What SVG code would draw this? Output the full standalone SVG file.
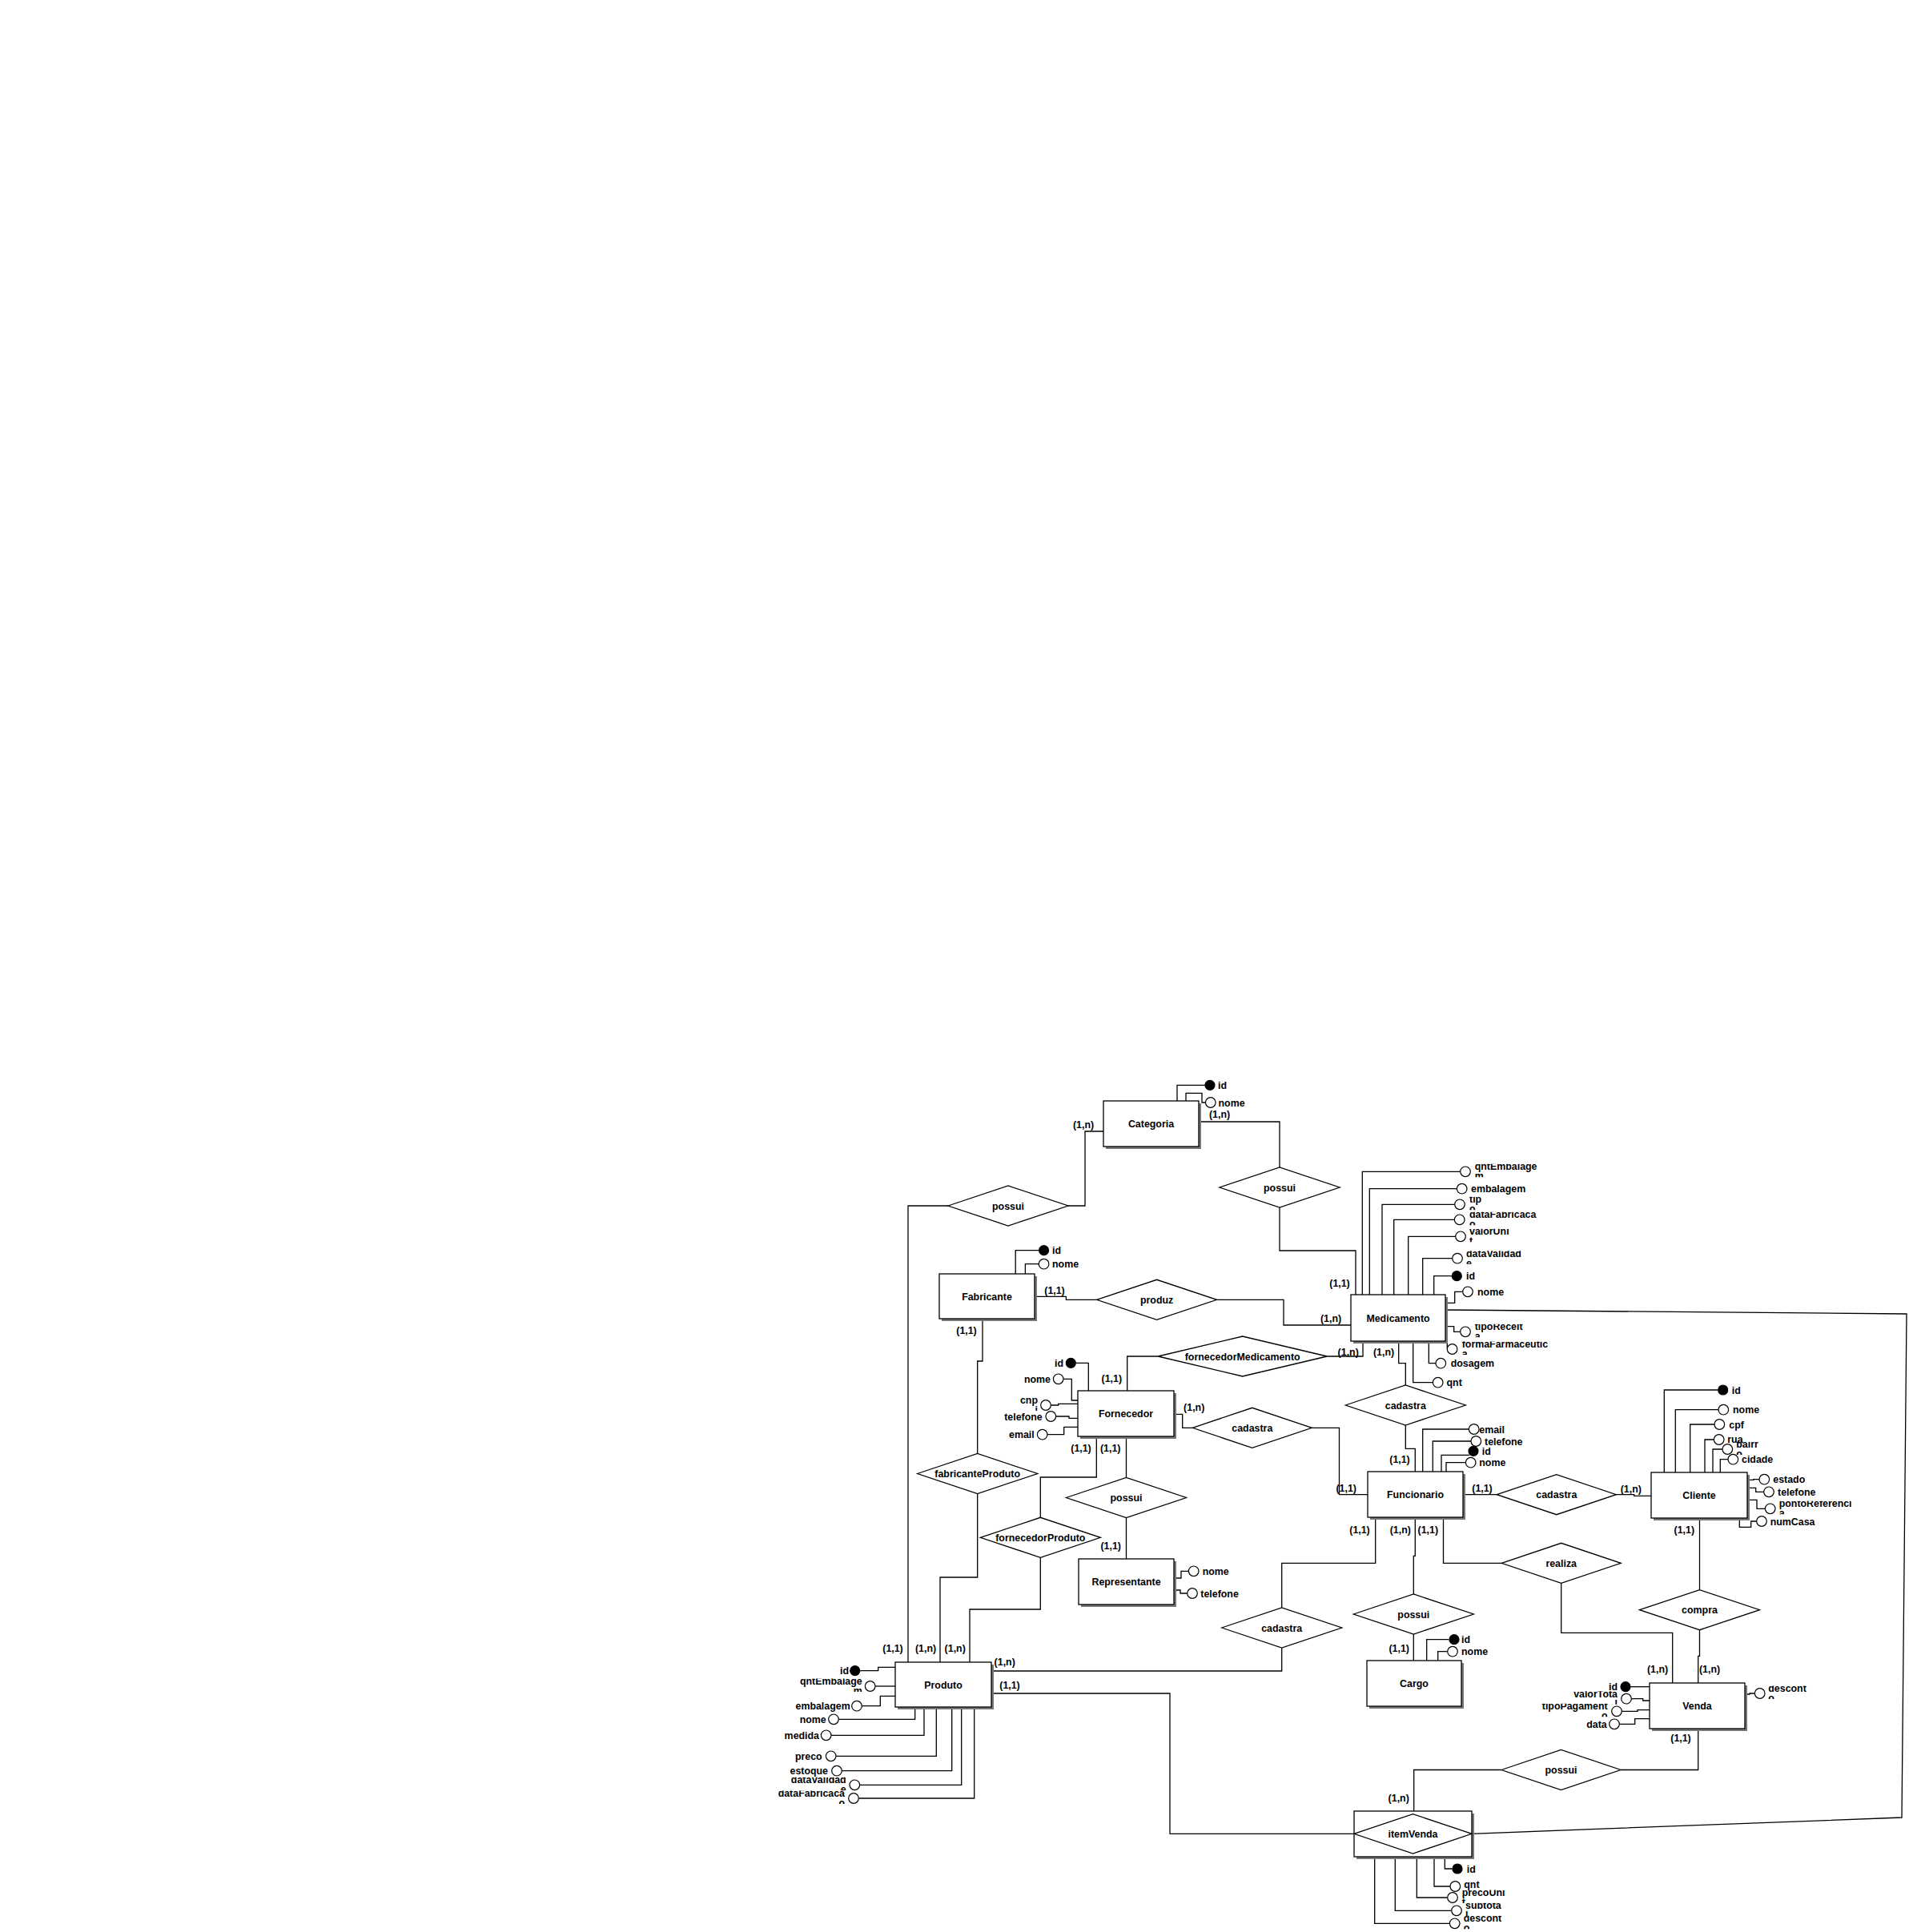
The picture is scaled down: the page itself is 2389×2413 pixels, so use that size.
<svg xmlns="http://www.w3.org/2000/svg" width="2389" height="2413" viewBox="0 0 2389 2413">
<style>
.ln{fill:none;stroke:#000;stroke-width:1.3}
.ent{fill:#fff;stroke:#000;stroke-width:1.3}
.sh{fill:#777}
.rel{fill:#fff;stroke:#000;stroke-width:1.3}
.at{fill:#fff;stroke:#000;stroke-width:1.2}
.pk{fill:#000;stroke:#000;stroke-width:1.2}
text{font-family:"Liberation Sans",Arial,Helvetica,sans-serif;font-weight:bold;font-size:12.4px;fill:#000}
.c{text-anchor:middle}
.e{text-anchor:end}
</style>
<defs>
<clipPath id="w1"><rect x="1841" y="1453.8" width="110" height="16.5"/></clipPath>
<clipPath id="w2"><rect x="1834" y="1494.8" width="110" height="16.5"/></clipPath>
<clipPath id="w3"><rect x="1834" y="1513.8" width="110" height="16.5"/></clipPath>
<clipPath id="w4"><rect x="1834" y="1534.8" width="110" height="16.5"/></clipPath>
<clipPath id="w5"><rect x="1830" y="1562.2" width="110" height="16.5"/></clipPath>
<clipPath id="w6"><rect x="1841" y="1653.8" width="110" height="16.5"/></clipPath>
<clipPath id="w7"><rect x="1825" y="1675.5" width="130" height="16.5"/></clipPath>
<clipPath id="w8"><rect x="1200" y="1745.5" width="97" height="16.5"/></clipPath>
<clipPath id="w9"><rect x="2167" y="1800.5" width="110" height="16.5"/></clipPath>
<clipPath id="w10"><rect x="2221" y="1874.8" width="120" height="16.5"/></clipPath>
<clipPath id="w11"><rect x="960" y="2096.5" width="118" height="16.5"/></clipPath>
<clipPath id="w12"><rect x="940" y="2219.8" width="118" height="16.5"/></clipPath>
<clipPath id="w13"><rect x="940" y="2236.5" width="116" height="16.5"/></clipPath>
<clipPath id="w14"><rect x="1900" y="2112.2" width="121" height="16.5"/></clipPath>
<clipPath id="w15"><rect x="1890" y="2127.8" width="119" height="16.5"/></clipPath>
<clipPath id="w16"><rect x="2207" y="2105.5" width="110" height="16.5"/></clipPath>
<clipPath id="w17"><rect x="1825" y="2360.5" width="110" height="16.5"/></clipPath>
<clipPath id="w18"><rect x="1829" y="2376.8" width="110" height="16.5"/></clipPath>
<clipPath id="w19"><rect x="1827" y="2392.8" width="110" height="16.5"/></clipPath>
</defs>
<rect x="0" y="0" width="2389" height="2413" fill="#fff"/>

<g id="connectors">
<!-- relationships -->
<path class="ln" d="M1378,1413 H1355 V1506 H1334"/>
<path class="ln" d="M1184,1506 H1134 V2076"/>
<path class="ln" d="M1497,1401 H1598 V1458"/>
<path class="ln" d="M1598,1508 V1562 H1693 V1617"/>
<path class="ln" d="M1292,1619.3 H1331.4 V1623.3 H1369.6"/>
<path class="ln" d="M1519.6,1623.3 H1603 V1655 H1687"/>
<path class="ln" d="M1227,1647 V1700 H1220.7 V1815.5"/>
<path class="ln" d="M1220.7,1865.5 V1970 H1174 V2076"/>
<path class="ln" d="M1407.7,1737 V1694 H1446.2"/>
<path class="ln" d="M1657.2,1694 H1702 V1675"/>
<path class="ln" d="M1466,1766.3 H1476.7 V1783.3 H1489.3"/>
<path class="ln" d="M1638.3,1783.3 H1672.5 V1866.7 H1708"/>
<path class="ln" d="M1369.3,1794 V1845 H1299.3 V1895.3"/>
<path class="ln" d="M1299.3,1945.3 V2010 H1211 V2076"/>
<path class="ln" d="M1406.5,1794 V1845.5"/>
<path class="ln" d="M1406.5,1895.5 V1947"/>
<path class="ln" d="M1746.7,1675 V1702.7 H1755.3 V1730"/>
<path class="ln" d="M1755.3,1780 V1809.3 H1767.3 V1838"/>
<path class="ln" d="M1827,1866.7 H1869.3"/>
<path class="ln" d="M2018.3,1866.7 H2040.7 V1868.3 H2062"/>
<path class="ln" d="M1717.7,1895 V1952.3 H1600.7 V2008"/>
<path class="ln" d="M1600.7,2058 V2087 H1238"/>
<path class="ln" d="M1767.3,1895 V1943.3 H1765.3 V1991"/>
<path class="ln" d="M1765.3,2041 V2074"/>
<path class="ln" d="M1802.5,1895 V1952.3 H1875.2"/>
<path class="ln" d="M1949.7,1977.3 V2039.3 H2088.7 V2102"/>
<path class="ln" d="M2122.5,1896 V1985.7"/>
<path class="ln" d="M2122.5,2035.7 V2068.3 H2120.7 V2102"/>
<path class="ln" d="M2120.7,2159 V2210.5 H2024"/>
<path class="ln" d="M1875,2210.5 H1765.7 V2262"/>
<path class="ln" d="M1238,2115 H1461 V2290.3 H1691"/>
<path class="ln" d="M1805,1636 L2381,1641 L2375,2270 L1838,2290.3"/>
<!-- attribute links -->
<path class="ln" d="M1470,1375 V1355.3 H1505"/>
<path class="ln" d="M1481,1375 V1365.3 H1501 V1377 H1505.5"/>
<path class="ln" d="M1701.3,1617 V1463.3 H1823.7"/>
<path class="ln" d="M1710.3,1617 V1484.7 H1819.4"/>
<path class="ln" d="M1726,1617 V1504.3 H1816.7"/>
<path class="ln" d="M1740.7,1617 V1523.3 H1816.4"/>
<path class="ln" d="M1758.7,1617 V1544.3 H1817.7"/>
<path class="ln" d="M1776.7,1617 V1571.7 H1813.7"/>
<path class="ln" d="M1790.7,1617 V1593.7 H1813"/>
<path class="ln" d="M1805,1627.3 H1816.7 V1613.3 H1826.7"/>
<path class="ln" d="M1805,1656.7 H1815.7 V1663.3 H1823.7"/>
<path class="ln" d="M1807.3,1675 V1685"/>
<path class="ln" d="M1784.3,1675 V1702.7 H1793"/>
<path class="ln" d="M1764.7,1675 V1726.7 H1789.4"/>
<path class="ln" d="M1268.2,1591 V1561.7 H1297.3"/>
<path class="ln" d="M1280.4,1591 V1578.7 H1297.3"/>
<path class="ln" d="M1343.6,1702.3 H1359.3 V1737"/>
<path class="ln" d="M1328,1722.3 H1338.3 V1749 H1346"/>
<path class="ln" d="M1312.3,1755 H1321.7 V1753.3 H1346"/>
<path class="ln" d="M1318.6,1769 H1335 V1771.3 H1346"/>
<path class="ln" d="M1308,1791.7 H1328.7 V1782.3 H1346"/>
<path class="ln" d="M1776.7,1838 V1785 H1834.4"/>
<path class="ln" d="M1789.3,1838 V1800 H1837"/>
<path class="ln" d="M1800,1838 V1817.3 H1835"/>
<path class="ln" d="M1806,1838 V1826.7 H1830.4"/>
<path class="ln" d="M2078.3,1839 V1736 H2145.4"/>
<path class="ln" d="M2092.3,1839 V1760.7 H2146"/>
<path class="ln" d="M2110.7,1839 V1779 H2141"/>
<path class="ln" d="M2129,1839 V1798 H2140.4"/>
<path class="ln" d="M2139,1839 V1810 H2151"/>
<path class="ln" d="M2148.3,1839 V1822.7 H2158"/>
<path class="ln" d="M2182,1848.3 H2190 V1847.7 H2197"/>
<path class="ln" d="M2182,1858.3 H2192.7 V1863.3 H2202.7"/>
<path class="ln" d="M2182,1873.3 H2194 V1884.3 H2204.4"/>
<path class="ln" d="M2172.3,1896 V1907.3 H2186.7 V1900 H2193.7"/>
<path class="ln" d="M1466,1971 H1475 V1962.3 H1484.4"/>
<path class="ln" d="M1466,1986 H1474 V1990 H1482.7"/>
<path class="ln" d="M1781.7,2074 V2047.7 H1809.7"/>
<path class="ln" d="M1795.7,2074 V2062.7 H1807.7"/>
<path class="ln" d="M1074,2086.7 H1096.7 V2082.3 H1118"/>
<path class="ln" d="M1093,2106 H1118"/>
<path class="ln" d="M1076.3,2130.7 H1099.3 V2118.3 H1118"/>
<path class="ln" d="M1047.3,2147.3 H1142.7 V2132"/>
<path class="ln" d="M1038,2167.3 H1154 V2132"/>
<path class="ln" d="M1044,2193.3 H1169.3 V2132"/>
<path class="ln" d="M1051.3,2211.7 H1188.7 V2132"/>
<path class="ln" d="M1073.6,2229.3 H1200.7 V2132"/>
<path class="ln" d="M1072.3,2246 H1216.7 V2132"/>
<path class="ln" d="M2036.3,2106.7 H2060"/>
<path class="ln" d="M2037.3,2121.7 H2051.7 V2124 H2060"/>
<path class="ln" d="M2025.3,2137.3 H2045 V2135.7 H2060"/>
<path class="ln" d="M2022.3,2153.3 H2041.7 V2146.7 H2060"/>
<path class="ln" d="M2179,2116 H2185 V2115 H2191.4"/>
<path class="ln" d="M1804.3,2319 V2334 H1813.7"/>
<path class="ln" d="M1791,2319 V2356 H1811"/>
<path class="ln" d="M1769.3,2319 V2370 H1807.7"/>
<path class="ln" d="M1742.3,2319 V2386.3 H1812.7"/>
<path class="ln" d="M1716.7,2319 V2402.3 H1810.4"/>
<!-- cardinalities -->
<text class="c" x="1353" y="1409.2">(1,n)</text>
<text class="c" x="1523" y="1396.2">(1,n)</text>
<text class="c" x="1673" y="1607.2">(1,1)</text>
<text class="c" x="1662" y="1651.2">(1,n)</text>
<text class="c" x="1683.7" y="1692.5">(1,n)</text>
<text class="c" x="1728" y="1692.5">(1,n)</text>
<text class="c" x="1317" y="1615.5">(1,1)</text>
<text class="c" x="1207" y="1666">(1,1)</text>
<text class="c" x="1388.3" y="1725.8">(1,1)</text>
<text class="c" x="1491.2" y="1761.5">(1,n)</text>
<text class="c" x="1350" y="1812.8">(1,1)</text>
<text class="c" x="1386.7" y="1812.8">(1,1)</text>
<text class="c" x="1748" y="1827">(1,1)</text>
<text class="c" x="1681.2" y="1862.5">(1,1)</text>
<text class="c" x="1851" y="1862.5">(1,1)</text>
<text class="c" x="2036.8" y="1863.5">(1,n)</text>
<text class="c" x="1698" y="1914.5">(1,1)</text>
<text class="c" x="1748.8" y="1914.5">(1,n)</text>
<text class="c" x="1783.3" y="1914.5">(1,1)</text>
<text class="c" x="2103.3" y="1914.5">(1,1)</text>
<text class="c" x="1115" y="2063.2">(1,1)</text>
<text class="c" x="1156" y="2063.2">(1,n)</text>
<text class="c" x="1192.7" y="2063.2">(1,n)</text>
<text class="c" x="1254.7" y="2079.5">(1,n)</text>
<text class="c" x="1261" y="2108.5">(1,1)</text>
<text class="c" x="1387.2" y="1934.5">(1,1)</text>
<text class="c" x="1747.2" y="2062.5">(1,1)</text>
<text class="c" x="2070" y="2088.8">(1,n)</text>
<text class="c" x="2135" y="2088.8">(1,n)</text>
<text class="c" x="2099" y="2174.5">(1,1)</text>
<text class="c" x="1746.7" y="2249.5">(1,n)</text>
</g>

<g id="rel-possui-categoria-produto"><polygon class="rel" points="1184,1506 1259,1481 1334,1506 1259,1531"/><text class="c" x="1259" y="1510.5">possui</text></g>
<g id="rel-possui-categoria-medicamento"><polygon class="rel" points="1523,1483 1598,1458 1673,1483 1598,1508"/><text class="c" x="1598" y="1487.5">possui</text></g>
<g id="rel-produz"><polygon class="rel" points="1369.6,1623.3 1444.6,1598.3 1519.6,1623.3 1444.6,1648.3"/><text class="c" x="1444.6" y="1627.8">produz</text></g>
<g id="rel-fornecedorMedicamento"><polygon class="rel" points="1446.2,1694 1551.7,1669 1657.2,1694 1551.7,1719"/><text class="c" x="1551.7" y="1698.5">fornecedorMedicamento</text></g>
<g id="rel-cadastra-fornecedor"><polygon class="rel" points="1489.3,1783.3 1563.8,1758.3 1638.3,1783.3 1563.8,1808.3"/><text class="c" x="1563.8" y="1787.8">cadastra</text></g>
<g id="rel-cadastra-medicamento"><polygon class="rel" points="1680.3,1755 1755.3,1730 1830.3,1755 1755.3,1780"/><text class="c" x="1755.3" y="1759.5">cadastra</text></g>
<g id="rel-fabricanteProduto"><polygon class="rel" points="1145.7,1840.5 1220.7,1815.5 1295.7,1840.5 1220.7,1865.5"/><text class="c" x="1220.7" y="1845">fabricanteProduto</text></g>
<g id="rel-possui-representante"><polygon class="rel" points="1331.5,1870.5 1406.5,1845.5 1481.5,1870.5 1406.5,1895.5"/><text class="c" x="1406.5" y="1875">possui</text></g>
<g id="rel-fornecedorProduto"><polygon class="rel" points="1224.3,1920.3 1299.3,1895.3 1374.3,1920.3 1299.3,1945.3"/><text class="c" x="1299.3" y="1924.8">fornecedorProduto</text></g>
<g id="rel-cadastra-cliente"><polygon class="rel" points="1869.3,1866.7 1943.8,1841.7 2018.3,1866.7 1943.8,1891.7"/><text class="c" x="1943.8" y="1871.2">cadastra</text></g>
<g id="rel-realiza"><polygon class="rel" points="1875.2,1952.3 1949.7,1927.3 2024.2,1952.3 1949.7,1977.3"/><text class="c" x="1949.7" y="1956.8">realiza</text></g>
<g id="rel-compra"><polygon class="rel" points="2047.5,2010.7 2122.5,1985.7 2197.5,2010.7 2122.5,2035.7"/><text class="c" x="2122.5" y="2015.2">compra</text></g>
<g id="rel-possui-cargo"><polygon class="rel" points="1690.3,2016 1765.3,1991 1840.3,2016 1765.3,2041"/><text class="c" x="1765.3" y="2020.5">possui</text></g>
<g id="rel-cadastra-produto"><polygon class="rel" points="1525.7,2033 1600.7,2008 1675.7,2033 1600.7,2058"/><text class="c" x="1600.7" y="2037.5">cadastra</text></g>
<g id="rel-possui-venda"><polygon class="rel" points="1875,2210.5 1949.5,2185.5 2024,2210.5 1949.5,2235.5"/><text class="c" x="1949.5" y="2215">possui</text></g>

<g id="ent-categoria"><rect class="sh" x="1381" y="1378" width="119" height="57"/><rect class="ent" x="1378" y="1375" width="119" height="57"/><text class="c" x="1437.5" y="1408">Categoria</text></g>
<g id="ent-medicamento"><rect class="sh" x="1690" y="1620" width="118" height="58"/><rect class="ent" x="1687" y="1617" width="118" height="58"/><text class="c" x="1746" y="1650.5">Medicamento</text></g>
<g id="ent-fabricante"><rect class="sh" x="1176" y="1594" width="119" height="56"/><rect class="ent" x="1173" y="1591" width="119" height="56"/><text class="c" x="1232.5" y="1623.5">Fabricante</text></g>
<g id="ent-fornecedor"><rect class="sh" x="1349" y="1740" width="120" height="57"/><rect class="ent" x="1346" y="1737" width="120" height="57"/><text class="c" x="1406" y="1770">Fornecedor</text></g>
<g id="ent-funcionario"><rect class="sh" x="1711" y="1841" width="119" height="57"/><rect class="ent" x="1708" y="1838" width="119" height="57"/><text class="c" x="1767.5" y="1871">Funcionario</text></g>
<g id="ent-cliente"><rect class="sh" x="2065" y="1842" width="120" height="57"/><rect class="ent" x="2062" y="1839" width="120" height="57"/><text class="c" x="2122" y="1872">Cliente</text></g>
<g id="ent-representante"><rect class="sh" x="1350" y="1950" width="119" height="57"/><rect class="ent" x="1347" y="1947" width="119" height="57"/><text class="c" x="1406.5" y="1980">Representante</text></g>
<g id="ent-cargo"><rect class="sh" x="1710" y="2077" width="118" height="57"/><rect class="ent" x="1707" y="2074" width="118" height="57"/><text class="c" x="1766" y="2107">Cargo</text></g>
<g id="ent-produto"><rect class="sh" x="1121" y="2079" width="120" height="56"/><rect class="ent" x="1118" y="2076" width="120" height="56"/><text class="c" x="1178" y="2108.5">Produto</text></g>
<g id="ent-venda"><rect class="sh" x="2063" y="2105" width="119" height="57"/><rect class="ent" x="2060" y="2102" width="119" height="57"/><text class="c" x="2119.5" y="2135">Venda</text></g>
<g id="ent-itemVenda"><rect class="sh" x="1694" y="2265" width="147" height="57"/><rect class="ent" x="1691" y="2262" width="147" height="57"/><polygon class="rel" points="1691,2290.3 1764.5,2265.7 1838,2290.3 1764.5,2315"/><text class="c" x="1764.5" y="2294.8">itemVenda</text></g>

<g id="attrs-categoria">
<circle class="pk" cx="1511" cy="1355.3" r="6"/><text x="1521" y="1359.8">id</text>
<circle class="at" cx="1511.8" cy="1377" r="6.3"/><text x="1521.5" y="1381.5">nome</text>
</g>
<g id="attrs-medicamento">
<circle class="at" cx="1830" cy="1463.3" r="6.3"/><g clip-path="url(#w1)"><text x="1841.7" y="1461.3">qntEmbalage</text><text x="1841.7" y="1473.3">m</text></g>
<circle class="at" cx="1825.7" cy="1484.7" r="6.3"/><text x="1837" y="1489.2">embalagem</text>
<circle class="at" cx="1823" cy="1504.3" r="6.3"/><g clip-path="url(#w2)"><text x="1835" y="1502.3">tip</text><text x="1835" y="1514.3">o</text></g>
<circle class="at" cx="1822.7" cy="1523.3" r="6.3"/><g clip-path="url(#w3)"><text x="1835" y="1521.3">dataFabricaca</text><text x="1835" y="1533.3">o</text></g>
<circle class="at" cx="1824" cy="1544.3" r="6.3"/><g clip-path="url(#w4)"><text x="1835" y="1542.3">valorUni</text><text x="1835" y="1554.3">t</text></g>
<circle class="at" cx="1820" cy="1571.7" r="6.3"/><g clip-path="url(#w5)"><text x="1831" y="1569.7">dataValidad</text><text x="1831" y="1581.7">e</text></g>
<circle class="pk" cx="1819.3" cy="1593.7" r="6"/><text x="1831" y="1598.2">id</text>
<circle class="at" cx="1833" cy="1613.3" r="6.3"/><text x="1845" y="1617.8">nome</text>
<circle class="at" cx="1830" cy="1663.3" r="6.3"/><g clip-path="url(#w6)"><text x="1841.7" y="1661.3">tipoReceit</text><text x="1841.7" y="1673.3">a</text></g>
<circle class="at" cx="1813.6" cy="1685" r="6.3"/><g clip-path="url(#w7)"><text x="1825.7" y="1683">formaFarmaceutic</text><text x="1825.7" y="1695">a</text></g>
<circle class="at" cx="1799.3" cy="1702.7" r="6.3"/><text x="1811.7" y="1707.2">dosagem</text>
<circle class="at" cx="1795.7" cy="1726.7" r="6.3"/><text x="1806.5" y="1731.2">qnt</text>
</g>
<g id="attrs-fabricante">
<circle class="pk" cx="1303.6" cy="1561.7" r="6"/><text x="1314" y="1566.2">id</text>
<circle class="at" cx="1303.6" cy="1578.7" r="6.3"/><text x="1314" y="1583.2">nome</text>
</g>
<g id="attrs-fornecedor">
<circle class="pk" cx="1337.3" cy="1702.3" r="6"/><text class="e" x="1328" y="1706.8">id</text>
<circle class="at" cx="1321.7" cy="1722.3" r="6.3"/><text class="e" x="1312" y="1726.8">nome</text>
<circle class="at" cx="1306" cy="1755" r="6.3"/><g clip-path="url(#w8)"><text class="e" x="1296" y="1753">cnp</text><text class="e" x="1296" y="1765">j</text></g>
<circle class="at" cx="1312.3" cy="1769" r="6.3"/><text class="e" x="1301.7" y="1773.5">telefone</text>
<circle class="at" cx="1301.7" cy="1791.7" r="6.3"/><text class="e" x="1291.7" y="1796.2">email</text>
</g>
<g id="attrs-funcionario">
<circle class="at" cx="1840.7" cy="1785" r="6.3"/><text x="1847.3" y="1789.5">email</text>
<circle class="at" cx="1843.3" cy="1800" r="6.3"/><text x="1854" y="1804.5">telefone</text>
<circle class="pk" cx="1840" cy="1812.3" r="6"/><text x="1850.7" y="1816.8">id</text>
<circle class="at" cx="1836.7" cy="1826.7" r="6.3"/><text x="1847.3" y="1831.2">nome</text>
</g>
<g id="attrs-cliente">
<circle class="pk" cx="2151.7" cy="1736" r="6"/><text x="2162.7" y="1740.5">id</text>
<circle class="at" cx="2152.3" cy="1760.7" r="6.3"/><text x="2164" y="1765.2">nome</text>
<circle class="at" cx="2147.3" cy="1779" r="6.3"/><text x="2159.3" y="1783.5">cpf</text>
<circle class="at" cx="2146.7" cy="1798" r="6.3"/><text x="2157.3" y="1802">rua</text>
<circle class="at" cx="2157.3" cy="1810" r="6.3"/><g clip-path="url(#w9)"><text x="2168.3" y="1808">bairr</text><text x="2168.3" y="1820">o</text></g>
<circle class="at" cx="2164.3" cy="1822.7" r="6.3"/><text x="2175" y="1827.2">cidade</text>
<circle class="at" cx="2203.3" cy="1847.7" r="6.3"/><text x="2214.3" y="1852.2">estado</text>
<circle class="at" cx="2209" cy="1863.3" r="6.3"/><text x="2220" y="1867.8">telefone</text>
<circle class="at" cx="2210.7" cy="1884.3" r="6.3"/><g clip-path="url(#w10)"><text x="2221.7" y="1882.3">pontoReferenci</text><text x="2221.7" y="1894.3">a</text></g>
<circle class="at" cx="2200" cy="1900" r="6.3"/><text x="2210.7" y="1904.5">numCasa</text>
</g>
<g id="attrs-representante">
<circle class="at" cx="1490.7" cy="1962.3" r="6.3"/><text x="1501.7" y="1966.8">nome</text>
<circle class="at" cx="1489" cy="1990" r="6.3"/><text x="1499.3" y="1994.5">telefone</text>
</g>
<g id="attrs-cargo">
<circle class="pk" cx="1816" cy="2047.7" r="6"/><text x="1825" y="2052.2">id</text>
<circle class="at" cx="1814" cy="2062.7" r="6.3"/><text x="1825" y="2067.2">nome</text>
</g>
<g id="attrs-produto">
<circle class="pk" cx="1067.7" cy="2086.7" r="6"/><text class="e" x="1060" y="2091.2">id</text>
<circle class="at" cx="1086.7" cy="2106" r="6.3"/><g clip-path="url(#w11)"><text class="e" x="1076.7" y="2104">qntEmbalage</text><text class="e" x="1076.7" y="2116">m</text></g>
<circle class="at" cx="1070" cy="2130.7" r="6.3"/><text class="e" x="1061.7" y="2135.2">embalagem</text>
<circle class="at" cx="1041" cy="2147.3" r="6.3"/><text class="e" x="1031.7" y="2151.8">nome</text>
<circle class="at" cx="1031.7" cy="2167.3" r="6.3"/><text class="e" x="1023" y="2171.8">medida</text>
<circle class="at" cx="1037.7" cy="2193.3" r="6.3"/><text class="e" x="1026.7" y="2197.8">preco</text>
<circle class="at" cx="1045" cy="2211.7" r="6.3"/><text class="e" x="1034" y="2216.2">estoque</text>
<circle class="at" cx="1067.3" cy="2229.3" r="6.3"/><g clip-path="url(#w12)"><text class="e" x="1056.7" y="2227.3">dataValidad</text><text class="e" x="1056.7" y="2239.3">e</text></g>
<circle class="at" cx="1066" cy="2246" r="6.3"/><g clip-path="url(#w13)"><text class="e" x="1055" y="2244">dataFabricaca</text><text class="e" x="1055" y="2256">o</text></g>
</g>
<g id="attrs-venda">
<circle class="pk" cx="2030" cy="2106.7" r="6"/><text class="e" x="2020" y="2111.2">id</text>
<circle class="at" cx="2031" cy="2121.7" r="6.3"/><g clip-path="url(#w14)"><text class="e" x="2020" y="2119.7">valorTota</text><text class="e" x="2020" y="2131.7">l</text></g>
<circle class="at" cx="2019" cy="2137.3" r="6.3"/><g clip-path="url(#w15)"><text class="e" x="2007.7" y="2135.3">tipoPagament</text><text class="e" x="2007.7" y="2147.3">o</text></g>
<circle class="at" cx="2016" cy="2153.3" r="6.3"/><text class="e" x="2006.7" y="2157.8">data</text>
<circle class="at" cx="2197.7" cy="2115" r="6.3"/><g clip-path="url(#w16)"><text x="2208.3" y="2113">descont</text><text x="2208.3" y="2125">o</text></g>
</g>
<g id="attrs-itemVenda">
<circle class="pk" cx="1820" cy="2334" r="6"/><text x="1831.7" y="2338.5">id</text>
<circle class="at" cx="1817.3" cy="2356" r="6.3"/><text x="1828.3" y="2358">qnt</text>
<circle class="at" cx="1814" cy="2370" r="6.3"/><g clip-path="url(#w17)"><text x="1825.7" y="2368">precoUni</text><text x="1825.7" y="2380">t</text></g>
<circle class="at" cx="1819" cy="2386.3" r="6.3"/><g clip-path="url(#w18)"><text x="1830" y="2384.3">subtota</text><text x="1830" y="2396.3">l</text></g>
<circle class="at" cx="1816.7" cy="2402.3" r="6.3"/><g clip-path="url(#w19)"><text x="1827.7" y="2400.3">descont</text><text x="1827.7" y="2412.3">o</text></g>
</g>
</svg>
